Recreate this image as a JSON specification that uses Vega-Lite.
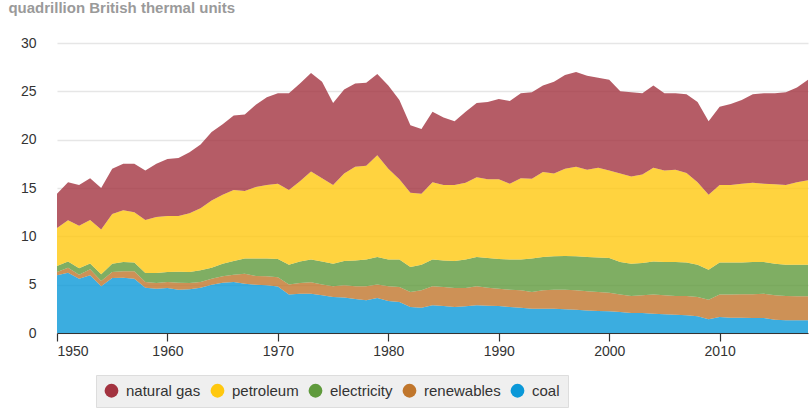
{
  "$schema": "https://vega.github.io/schema/vega-lite/v6.json",
  "autosize": {"type": "none"},
  "width": 751,
  "height": 290,
  "padding": {"left": 57, "top": 43, "right": 1, "bottom": 77},
  "background": "white",
  "title": {
    "text": "quadrillion British thermal units",
    "anchor": "start",
    "dx": -12,
    "offset": 20,
    "font": "Liberation Sans",
    "fontSize": 15,
    "fontWeight": "bold",
    "color": "#9a9a9a"
  },
  "data": {
    "values": [
      {"year": 1950, "coal": 5.97, "renewables": 0.33, "electricity": 0.63, "petroleum": 3.93, "natural gas": 3.54},
      {"year": 1951, "coal": 6.24, "renewables": 0.52, "electricity": 0.64, "petroleum": 4.26, "natural gas": 3.94},
      {"year": 1952, "coal": 5.62, "renewables": 0.41, "electricity": 0.67, "petroleum": 4.4, "natural gas": 4.2},
      {"year": 1953, "coal": 5.97, "renewables": 0.63, "electricity": 0.6, "petroleum": 4.5, "natural gas": 4.3},
      {"year": 1954, "coal": 4.83, "renewables": 0.55, "electricity": 0.69, "petroleum": 4.63, "natural gas": 4.3},
      {"year": 1955, "coal": 5.69, "renewables": 0.61, "electricity": 0.87, "petroleum": 5.13, "natural gas": 4.7},
      {"year": 1956, "coal": 5.72, "renewables": 0.68, "electricity": 0.94, "petroleum": 5.36, "natural gas": 4.8},
      {"year": 1957, "coal": 5.62, "renewables": 0.76, "electricity": 0.92, "petroleum": 5.2, "natural gas": 5.0},
      {"year": 1958, "coal": 4.69, "renewables": 0.59, "electricity": 0.92, "petroleum": 5.5, "natural gas": 5.1},
      {"year": 1959, "coal": 4.59, "renewables": 0.58, "electricity": 1.03, "petroleum": 5.8, "natural gas": 5.5},
      {"year": 1960, "coal": 4.66, "renewables": 0.62, "electricity": 1.02, "petroleum": 5.8, "natural gas": 5.9},
      {"year": 1961, "coal": 4.48, "renewables": 0.72, "electricity": 1.14, "petroleum": 5.76, "natural gas": 6.0},
      {"year": 1962, "coal": 4.52, "renewables": 0.65, "electricity": 1.13, "petroleum": 6.1, "natural gas": 6.3},
      {"year": 1963, "coal": 4.69, "renewables": 0.59, "electricity": 1.22, "petroleum": 6.4, "natural gas": 6.6},
      {"year": 1964, "coal": 5.0, "renewables": 0.6, "electricity": 1.16, "petroleum": 6.94, "natural gas": 7.1},
      {"year": 1965, "coal": 5.2, "renewables": 0.66, "electricity": 1.31, "petroleum": 7.13, "natural gas": 7.3},
      {"year": 1966, "coal": 5.28, "renewables": 0.75, "electricity": 1.42, "petroleum": 7.35, "natural gas": 7.7},
      {"year": 1967, "coal": 5.1, "renewables": 1.04, "electricity": 1.56, "petroleum": 7.0, "natural gas": 7.9},
      {"year": 1968, "coal": 5.0, "renewables": 0.9, "electricity": 1.8, "petroleum": 7.4, "natural gas": 8.5},
      {"year": 1969, "coal": 4.93, "renewables": 0.93, "electricity": 1.84, "petroleum": 7.6, "natural gas": 9.1},
      {"year": 1970, "coal": 4.8, "renewables": 0.96, "electricity": 1.89, "petroleum": 7.8, "natural gas": 9.35},
      {"year": 1971, "coal": 3.97, "renewables": 1.06, "electricity": 2.04, "petroleum": 7.73, "natural gas": 10.0},
      {"year": 1972, "coal": 4.07, "renewables": 1.1, "electricity": 2.23, "petroleum": 8.3, "natural gas": 10.1},
      {"year": 1973, "coal": 4.07, "renewables": 1.17, "electricity": 2.36, "petroleum": 9.1, "natural gas": 10.2},
      {"year": 1974, "coal": 3.9, "renewables": 1.13, "electricity": 2.37, "petroleum": 8.6, "natural gas": 10.0},
      {"year": 1975, "coal": 3.72, "renewables": 1.11, "electricity": 2.34, "petroleum": 8.13, "natural gas": 8.5},
      {"year": 1976, "coal": 3.66, "renewables": 1.27, "electricity": 2.52, "petroleum": 9.05, "natural gas": 8.7},
      {"year": 1977, "coal": 3.52, "renewables": 1.31, "electricity": 2.67, "petroleum": 9.7, "natural gas": 8.6},
      {"year": 1978, "coal": 3.38, "renewables": 1.45, "electricity": 2.77, "petroleum": 9.7, "natural gas": 8.6},
      {"year": 1979, "coal": 3.62, "renewables": 1.41, "electricity": 2.83, "petroleum": 10.54, "natural gas": 8.4},
      {"year": 1980, "coal": 3.31, "renewables": 1.52, "electricity": 2.77, "petroleum": 9.4, "natural gas": 8.6},
      {"year": 1981, "coal": 3.21, "renewables": 1.55, "electricity": 2.84, "petroleum": 8.3, "natural gas": 8.2},
      {"year": 1982, "coal": 2.69, "renewables": 1.55, "electricity": 2.59, "petroleum": 7.67, "natural gas": 7.0},
      {"year": 1983, "coal": 2.62, "renewables": 1.79, "electricity": 2.66, "petroleum": 7.33, "natural gas": 6.7},
      {"year": 1984, "coal": 2.86, "renewables": 1.97, "electricity": 2.77, "petroleum": 8.0, "natural gas": 7.3},
      {"year": 1985, "coal": 2.79, "renewables": 1.97, "electricity": 2.74, "petroleum": 7.8, "natural gas": 7.0},
      {"year": 1986, "coal": 2.69, "renewables": 1.97, "electricity": 2.79, "petroleum": 7.85, "natural gas": 6.6},
      {"year": 1987, "coal": 2.76, "renewables": 1.9, "electricity": 2.94, "petroleum": 7.95, "natural gas": 7.35},
      {"year": 1988, "coal": 2.86, "renewables": 1.97, "electricity": 3.03, "petroleum": 8.24, "natural gas": 7.7},
      {"year": 1989, "coal": 2.83, "renewables": 1.86, "electricity": 3.07, "petroleum": 8.14, "natural gas": 8.0},
      {"year": 1990, "coal": 2.79, "renewables": 1.8, "electricity": 3.07, "petroleum": 8.24, "natural gas": 8.3},
      {"year": 1991, "coal": 2.69, "renewables": 1.79, "electricity": 3.12, "petroleum": 7.85, "natural gas": 8.55},
      {"year": 1992, "coal": 2.62, "renewables": 1.79, "electricity": 3.19, "petroleum": 8.4, "natural gas": 8.8},
      {"year": 1993, "coal": 2.52, "renewables": 1.72, "electricity": 3.46, "petroleum": 8.25, "natural gas": 8.95},
      {"year": 1994, "coal": 2.52, "renewables": 1.89, "electricity": 3.45, "petroleum": 8.79, "natural gas": 8.95},
      {"year": 1995, "coal": 2.52, "renewables": 1.96, "electricity": 3.45, "petroleum": 8.57, "natural gas": 9.5},
      {"year": 1996, "coal": 2.45, "renewables": 2.03, "electricity": 3.49, "petroleum": 9.03, "natural gas": 9.7},
      {"year": 1997, "coal": 2.41, "renewables": 2.0, "electricity": 3.52, "petroleum": 9.27, "natural gas": 9.8},
      {"year": 1998, "coal": 2.34, "renewables": 1.97, "electricity": 3.55, "petroleum": 9.04, "natural gas": 9.7},
      {"year": 1999, "coal": 2.28, "renewables": 1.96, "electricity": 3.56, "petroleum": 9.3, "natural gas": 9.3},
      {"year": 2000, "coal": 2.24, "renewables": 1.93, "electricity": 3.59, "petroleum": 9.04, "natural gas": 9.4},
      {"year": 2001, "coal": 2.17, "renewables": 1.8, "electricity": 3.37, "petroleum": 9.16, "natural gas": 8.5},
      {"year": 2002, "coal": 2.07, "renewables": 1.76, "electricity": 3.34, "petroleum": 9.03, "natural gas": 8.7},
      {"year": 2003, "coal": 2.07, "renewables": 1.83, "electricity": 3.34, "petroleum": 9.16, "natural gas": 8.4},
      {"year": 2004, "coal": 2.0, "renewables": 1.97, "electricity": 3.43, "petroleum": 9.7, "natural gas": 8.5},
      {"year": 2005, "coal": 1.93, "renewables": 1.97, "electricity": 3.44, "petroleum": 9.46, "natural gas": 8.0},
      {"year": 2006, "coal": 1.9, "renewables": 1.93, "electricity": 3.51, "petroleum": 9.56, "natural gas": 7.9},
      {"year": 2007, "coal": 1.83, "renewables": 2.0, "electricity": 3.47, "petroleum": 9.25, "natural gas": 8.15},
      {"year": 2008, "coal": 1.72, "renewables": 2.0, "electricity": 3.35, "petroleum": 8.53, "natural gas": 8.3},
      {"year": 2009, "coal": 1.41, "renewables": 2.04, "electricity": 3.1, "petroleum": 7.75, "natural gas": 7.6},
      {"year": 2010, "coal": 1.66, "renewables": 2.31, "electricity": 3.33, "petroleum": 8.0, "natural gas": 8.1},
      {"year": 2011, "coal": 1.59, "renewables": 2.38, "electricity": 3.33, "petroleum": 8.0, "natural gas": 8.4},
      {"year": 2012, "coal": 1.59, "renewables": 2.41, "electricity": 3.3, "petroleum": 8.15, "natural gas": 8.65},
      {"year": 2013, "coal": 1.55, "renewables": 2.45, "electricity": 3.34, "petroleum": 8.21, "natural gas": 9.15},
      {"year": 2014, "coal": 1.55, "renewables": 2.52, "electricity": 3.27, "petroleum": 8.11, "natural gas": 9.35},
      {"year": 2015, "coal": 1.38, "renewables": 2.52, "electricity": 3.27, "petroleum": 8.23, "natural gas": 9.4},
      {"year": 2016, "coal": 1.31, "renewables": 2.52, "electricity": 3.24, "petroleum": 8.23, "natural gas": 9.6},
      {"year": 2017, "coal": 1.31, "renewables": 2.48, "electricity": 3.28, "petroleum": 8.53, "natural gas": 9.8},
      {"year": 2018, "coal": 1.31, "renewables": 2.48, "electricity": 3.28, "petroleum": 8.73, "natural gas": 10.4}
    ]
  },
  "transform": [
    {"fold": ["coal", "renewables", "electricity", "petroleum", "natural gas"], "as": ["source", "value"]},
    {"calculate": "indexof(['coal','renewables','electricity','petroleum','natural gas'], datum.source)", "as": "rank"}
  ],
  "mark": {"type": "area", "opacity": 0.8, "interpolate": "linear"},
  "encoding": {
    "x": {
      "field": "year",
      "type": "quantitative",
      "scale": {"domain": [1950, 2018], "nice": false, "zero": false},
      "axis": {
        "title": null,
        "values": [1950, 1960, 1970, 1980, 1990, 2000, 2010],
        "format": "d",
        "grid": false,
        "domainColor": "#333333",
        "domainWidth": 1.2,
        "tickColor": "#333333",
        "tickWidth": 1.2,
        "tickSize": 8,
        "labelFont": "Liberation Sans",
        "labelFontSize": 14,
        "labelColor": "#333333",
        "labelPadding": 3
      }
    },
    "y": {
      "field": "value",
      "type": "quantitative",
      "stack": "zero",
      "scale": {"domain": [0, 30], "nice": false},
      "axis": {
        "title": null,
        "values": [0, 5, 10, 15, 20, 25, 30],
        "domain": false,
        "ticks": false,
        "grid": true,
        "gridColor": "#e6e6e6",
        "gridWidth": 1.5,
        "labelFont": "Liberation Sans",
        "labelFontSize": 14,
        "labelColor": "#333333",
        "labelPadding": 21
      }
    },
    "color": {
      "field": "source",
      "type": "nominal",
      "scale": {
        "domain": ["natural gas", "petroleum", "electricity", "renewables", "coal"],
        "range": ["#a33340", "#ffc80f", "#5f9a3c", "#c0762c", "#0a98d8"]
      },
      "legend": {
        "title": null,
        "orient": "none",
        "legendX": 39,
        "legendY": 332,
        "direction": "horizontal",
        "columns": 5,
        "columnPadding": 9,
        "padding": 8,
        "fillColor": "#efefef",
        "strokeColor": "#dddddd",
        "symbolType": "circle",
        "symbolSize": 190,
        "symbolOpacity": 1,
        "symbolStrokeWidth": 0,
        "labelFont": "Liberation Sans",
        "labelFontSize": 15,
        "labelColor": "#333333",
        "labelOffset": 7
      }
    },
    "order": {"field": "rank", "type": "quantitative"}
  },
  "config": {
    "view": {"stroke": null}
  }
}
